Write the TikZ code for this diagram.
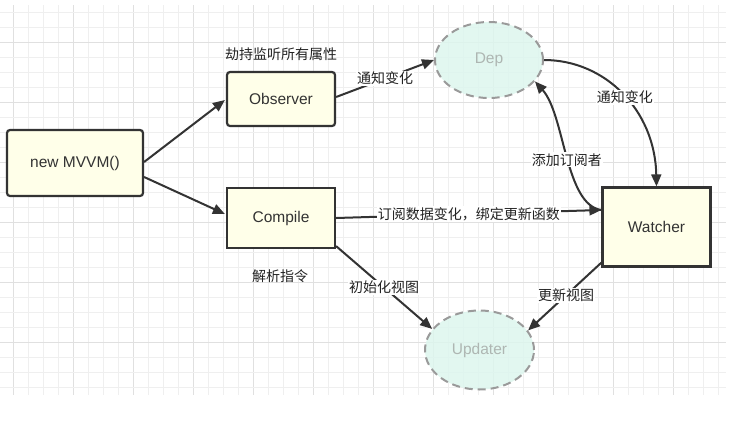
\documentclass[tikz,border=0pt]{standalone}
\usepackage{fontspec}
\setmainfont{Liberation Sans}
\newfontfamily\cjk{Noto Sans CJK SC}
\usetikzlibrary{shapes.geometric,arrows.meta,calc}
\definecolor{gridminor}{HTML}{EFEFEF}
\definecolor{gridmajor}{HTML}{E0E0E0}
\definecolor{boxfill}{HTML}{FFFFE9}
\definecolor{boxline}{HTML}{333333}
\definecolor{ellfill}{HTML}{DDF6EE}
\definecolor{elldraw}{HTML}{9A9A9A}
\definecolor{elltext}{HTML}{AEB6B2}
\definecolor{lbltext}{HTML}{222222}
\tikzset{
  box/.style={draw=boxline, fill=boxfill, line width=2.2pt, text=boxline,
    inner sep=0pt, font=\fontsize{15.5}{18}\selectfont},
  ell/.style={ellipse, draw=elldraw, fill=ellfill, fill opacity=0.85, text opacity=1,
    line width=2pt, dash pattern=on 8pt off 5pt, text=elltext, inner sep=0pt,
    font=\fontsize{15.5}{18}\selectfont},
  lbl/.style={text=lbltext, font=\cjk\fontsize{14}{16}\selectfont, inner sep=1pt},
  onlbl/.style={lbl, fill=white},
  arr/.style={draw=boxline, line width=2pt, -{Triangle[length=12pt,width=10pt]}},
}
\begin{document}
\begin{tikzpicture}[x=1pt,y=-1pt]
\useasboundingbox (0,0) rectangle (736,429);
\fill[white] (0,0) rectangle (736,429);
% grid
\foreach \i in {0,...,47}{
  \pgfmathsetmacro{\gx}{13+15*\i}
  \pgfmathtruncatemacro{\m}{mod(\i,4)}
  \ifnum\m=0
    \draw[gridmajor, line width=1pt] (\gx,5) -- (\gx,395);
  \else
    \draw[gridminor, line width=1pt] (\gx,5) -- (\gx,395);
  \fi
}
\foreach \j in {0,...,25}{
  \pgfmathsetmacro{\gy}{12+15*\j}
  \pgfmathtruncatemacro{\m}{mod(\j+2,4)}
  \ifnum\m=0
    \draw[gridmajor, line width=1pt] (0,\gy) -- (726,\gy);
  \else
    \draw[gridminor, line width=1pt] (0,\gy) -- (726,\gy);
  \fi
}
% nodes
\node[box, rounded corners=3pt, minimum width=136pt, minimum height=66pt] (mvvm) at (75,163) {new MVVM()};
\node[box, rounded corners=3pt, minimum width=108pt, minimum height=54pt] (obs) at (281,99) {Observer};
\node[box, minimum width=108pt, minimum height=60pt] (comp) at (281,218) {Compile};
\node[box, minimum width=108pt, minimum height=79pt] (watch) at (656.5,227) {Watcher};
\node[ell, minimum width=108pt, minimum height=76pt] (dep) at (489,60) {Dep};
\node[ell, minimum width=109pt, minimum height=79pt] (upd) at (479.5,350) {Updater};
% free labels
\node[lbl] (l1) at (281,54) {劫持监听所有属性};
\node[lbl] (l2) at (280,276) {解析指令};
% connectors
\draw[arr] ($(mvvm.east)+(0,-1)$) -- ($(obs.west)+(-1,1)$);
\draw[arr] ($(mvvm.east)+(0,14)$) -- ($(comp.west)+(-1,-4)$);
\draw[arr] ($(obs.east)+(0,-2)$) -- (dep.west) node[onlbl, pos=0.5] (t1) {通知变化};
\coordinate (win) at ($(watch.west)+(0,-17)$);
\draw[arr] (comp.east) -- (win) node[onlbl, pos=0.5] (t2) {订阅数据变化，绑定更新函数};
\draw[arr] ($(comp.south east)+(0,-3)$) -- (upd.156) node[onlbl, pos=0.5] (t3) {初始化视图};
\draw[arr] ($(watch.south west)+(0,-5)$) -- (upd.22) node[onlbl, pos=0.48] (t4) {更新视图};
\draw[arr] (dep.east) .. controls (605,60) and (655,110) .. (watch.north) node[onlbl, pos=0.52] (t5) {通知变化};
\draw[arr] (win) .. controls (565,205) and (565,115) .. (dep.-25) node[onlbl, pos=0.48] (t6) {添加订阅者};
\end{tikzpicture}
\end{document}
